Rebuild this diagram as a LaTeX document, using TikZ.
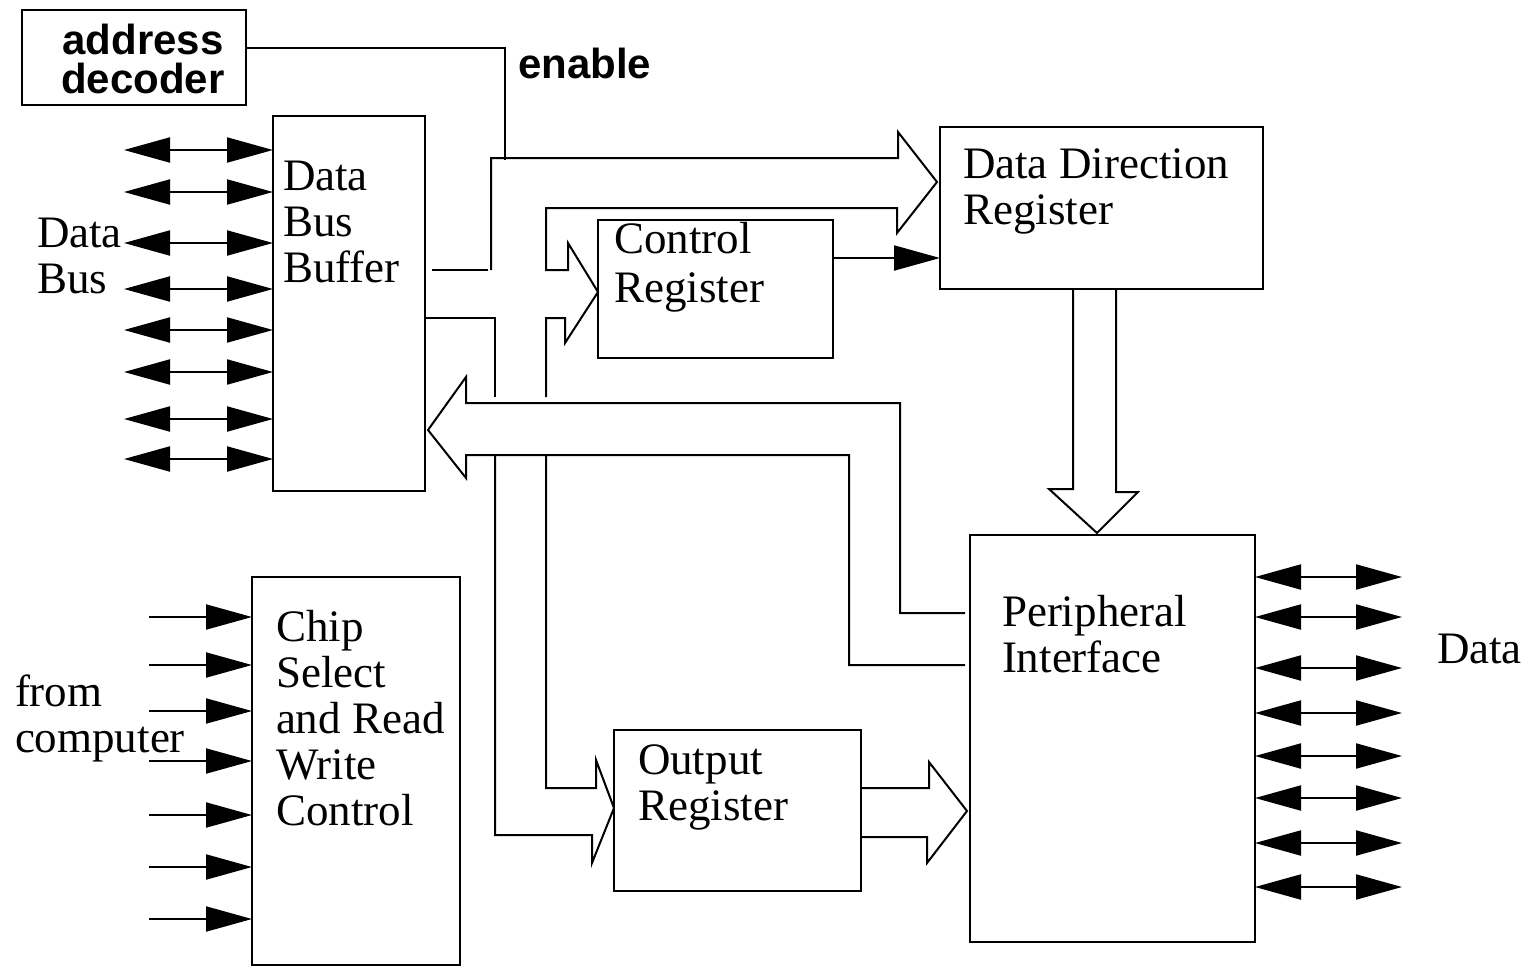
\documentclass[tikz,border=0pt]{standalone}
\usepackage{fontspec}
\setmainfont{Liberation Serif}
\setsansfont{Liberation Sans}
\usetikzlibrary{arrows.meta}
\begin{document}
\begin{tikzpicture}[x=1pt,y=-1pt,
  every node/.style={inner sep=0pt, outer sep=0pt},
  box/.style={draw, line width=2.4pt, anchor=north west},
  lbl/.style={anchor=base west, align=left, font=\fontsize{45}{46}\selectfont},
  slbl/.style={font=\sffamily\bfseries\fontsize{42}{39}\selectfont},
  wire/.style={line width=2pt, line join=miter},
  sig/.style={line width=2pt, -{Triangle[length=46pt,width=25pt]}},
  bidir/.style={line width=2pt, {Triangle[length=46pt,width=25pt]}-{Triangle[length=46pt,width=25pt]}}
]
\fill[white] (0,0) rectangle (1531,972);
\useasboundingbox (0,0) rectangle (1531,972);

% boxes
\node[box, minimum width=224pt, minimum height=95pt] (addr) at (22,10) {};
\node[box, minimum width=152pt, minimum height=375pt] (dbb) at (273,116) {};
\node[box, minimum width=235pt, minimum height=138pt] (ctrl) at (598,220) {};
\node[box, minimum width=323pt, minimum height=162pt] (ddr) at (940,127) {};
\node[box, minimum width=247pt, minimum height=161pt] (outr) at (614,730) {};
\node[box, minimum width=285pt, minimum height=407pt] (pi) at (970,535) {};
\node[box, minimum width=208pt, minimum height=388pt] (chip) at (252,577) {};

% texts (base anchor = baseline of the last line)
\node[slbl, anchor=base, align=center] (addrt) at (143,93) {address\\decoder};
\node[slbl, anchor=base west] (enable) at (518,78) {enable};
\node[lbl] (dbbt) at (283,282) {Data\\Bus\\Buffer};
\node[lbl] (busl) at (37,293) {Data\\Bus};
\node[lbl] (chipt) at (276,825) {Chip\\Select\\and Read\\Write\\Control};
\node[lbl] (fromt) at (15,752) {from\\computer};
\node[lbl] (ctrlt) at (614,302) {Control\\[3pt]Register};
\node[lbl] (outt) at (638,820) {Output\\Register};
\node[lbl] (ddrt) at (963,224) {Data Direction\\Register};
\node[lbl] (pit) at (1002,672) {Peripheral\\Interface};
\node[lbl] (datar) at (1437,663) {Data};

% enable line
\coordinate (en1) at (505,48);
\coordinate (en2) at (505,160);
\draw[wire] (addr.east |- en1) -- (en1) -- (en2);

% data bus arrows
\foreach \y in {150,192,243,289,330,372,419,459}{
  \coordinate (dl\y) at (124,\y);
  \draw[bidir] (dl\y) -- (dbb.west |- dl\y);
}
% peripheral data arrows
\foreach \y in {577,617,668,713,756,798,843,887}{
  \coordinate (pr\y) at (1402,\y);
  \draw[bidir] (pi.east |- pr\y) -- (pr\y);
}
% chip select inputs
\foreach \y in {617,665,711,761,815,867,919}{
  \coordinate (cs\y) at (149,\y);
  \draw[sig] (cs\y) -- (chip.west |- cs\y);
}
% control register to DDR
\coordinate (c2d) at (833,258);
\draw[sig] (c2d) -- (ddr.west |- c2d);

% fat bus DBB -> DDR and -> Control register
\draw[wire] (432,270) -- (488,270);
\draw[wire] (491,270) -- (491,158) -- (898,158) -- (898,132) -- (937,182)
  -- (897,233) -- (897,208) -- (546,208) -- (546,270) -- (568,270) -- (568,243)
  -- (598,292) -- (565,343) -- (565,318) -- (546,318) -- (546,397);
\draw[wire] (dbb.east |- 0,318) -- (495,318) -- (495,397);

% fat bus PI -> DBB
\draw[wire] (965,613) -- (900,613) -- (900,403) -- (466,403) -- (466,377)
  -- (428,430) -- (466,478) -- (466,455) -- (849,455) -- (849,665) -- (965,665);

% fat bus DBB -> Output register
\draw[wire] (495,455) -- (495,835) -- (592,835) -- (592,863) -- (614,808)
  -- (596,760) -- (596,788) -- (546,788) -- (546,455);

% fat bus Output register -> PI
\draw[wire] (861,788) -- (929,788) -- (929,762) -- (967,811) -- (927,863)
  -- (927,837) -- (861,837);

% fat bus DDR -> PI
\draw[wire] (1073,289) -- (1073,489) -- (1049,489) -- (1097,533) -- (1138,492)
  -- (1116,492) -- (1116,289);
\end{tikzpicture}
\end{document}
